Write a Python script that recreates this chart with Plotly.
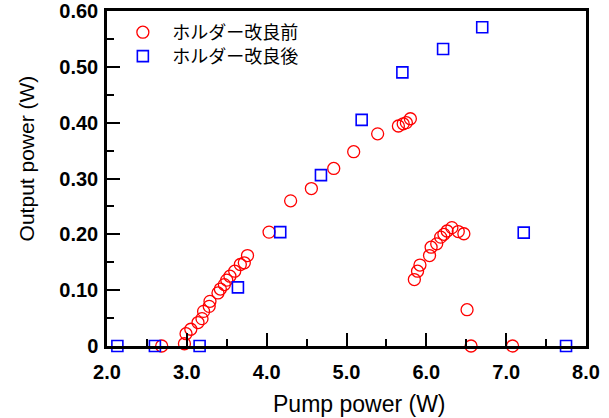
import plotly.graph_objects as go

# ホルダー改良前 (before holder improvement)
before_x = [2.685, 2.97, 2.99, 3.05, 3.14, 3.19, 3.21, 3.28, 3.29, 3.39, 3.42, 3.47, 3.50,
            3.54, 3.60, 3.67, 3.72, 3.76, 4.03, 4.30, 4.56, 4.84, 5.09, 5.39, 5.65, 5.71,
            5.75, 5.80, 5.85, 5.89, 5.92, 6.04, 6.06, 6.13, 6.18, 6.22, 6.26, 6.32, 6.40,
            6.47, 6.51, 6.56, 7.08]
before_y = [0.0, 0.004, 0.022, 0.030, 0.042, 0.049, 0.062, 0.071, 0.080, 0.095, 0.102, 0.110,
            0.118, 0.125, 0.134, 0.146, 0.149, 0.162, 0.204, 0.260, 0.282, 0.318, 0.348,
            0.380, 0.394, 0.398, 0.400, 0.407, 0.119, 0.134, 0.145, 0.162, 0.177, 0.183,
            0.195, 0.200, 0.206, 0.212, 0.205, 0.201, 0.065, 0.0, 0.0]

# ホルダー改良後 (after holder improvement)
after_x = [2.13, 2.60, 3.16, 3.64, 4.17, 4.68, 5.19, 5.70, 6.21, 6.70, 7.22, 7.75]
after_y = [0.0, 0.0, 0.0, 0.105, 0.204, 0.306, 0.405, 0.490, 0.532, 0.571, 0.203, 0.0]

x_ticks = [2, 3, 4, 5, 6, 7, 8]
x_tick_text = ["2.0", "3.0", "4.0", "5.0", "6.0", "7.0", "8.0"]
y_ticks = [0, 0.1, 0.2, 0.3, 0.4, 0.5, 0.6]
y_tick_text = ["0", "0.10", "0.20", "0.30", "0.40", "0.50", "0.60"]

FONT = "Liberation Sans, Arial, sans-serif"
CJK = "Noto Sans CJK JP, sans-serif"

fig = go.Figure()
fig.add_trace(go.Scatter(
    x=before_x, y=before_y, mode="markers", name="\u2004ホルダー改良前", legend="legend",
    marker=dict(symbol="circle-open", size=12, color="#ff0000", line=dict(width=1.3, color="#ff0000")),
    cliponaxis=False,
))
fig.add_trace(go.Scatter(
    x=after_x, y=after_y, mode="markers", name="\u2004ホルダー改良後", legend="legend2",
    marker=dict(symbol="square-open", size=11, color="#0000ff", line=dict(width=1.6, color="#0000ff")),
    cliponaxis=False,
))

axis_common = dict(
    showgrid=False, zeroline=False, showline=True, linecolor="black", linewidth=2.5,
    mirror=True, ticks="inside", ticklen=13, tickwidth=2, tickcolor="black", automargin=False,
    tickfont=dict(family=FONT, size=20, color="black", weight="bold"),
)

fig.update_xaxes(range=[2, 8], tickvals=x_ticks, ticktext=x_tick_text,
                 minor=dict(ticks="inside", ticklen=7, tickwidth=2, tickcolor="black", dtick=0.5),
                 ticklabelstandoff=6, **axis_common)
fig.update_yaxes(range=[0, 0.6], tickvals=y_ticks, ticktext=y_tick_text,
                 minor=dict(ticks="inside", ticklen=7, tickwidth=2, tickcolor="black", dtick=0.05),
                 ticklabelstandoff=2, **axis_common)

legend_common = dict(xanchor="left", yanchor="top",
                     font=dict(family=CJK, size=18, color="black"),
                     bgcolor="rgba(0,0,0,0)", itemwidth=37)

fig.update_layout(
    width=609, height=418,
    margin=dict(l=107, r=23, t=11, b=71.5, autoexpand=False),
    paper_bgcolor="white", plot_bgcolor="white",
    showlegend=True,
    legend=dict(x=0.0258, y=0.991, **legend_common),
    legend2=dict(x=0.0258, y=0.9195, **legend_common),
    annotations=[
        dict(text="Pump power (W)", xref="paper", yref="paper", x=0.528, y=0,
             yshift=-43, xanchor="center", yanchor="top", showarrow=False,
             font=dict(family=FONT, size=23, color="black")),
        dict(text="Output power (W)", xref="paper", yref="paper", x=0, y=0.56,
             xshift=-81, xanchor="center", yanchor="middle", textangle=-90, showarrow=False,
             font=dict(family=FONT, size=21, color="black")),
    ],
)

fig.write_html("out.html")
